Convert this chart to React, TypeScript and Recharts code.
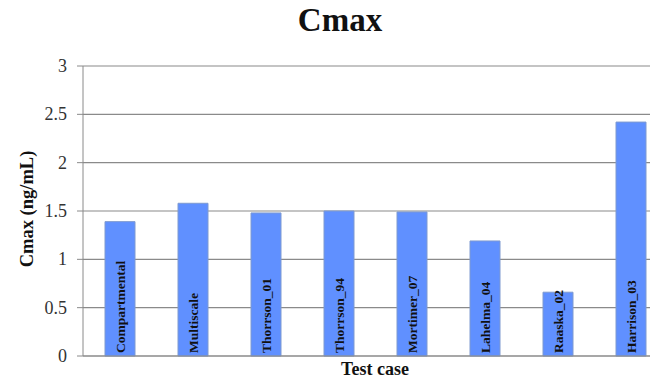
import React from 'react';
import { BarChart, Bar, XAxis, YAxis, CartesianGrid, LabelList } from 'recharts';

const categories = [
  'Compartmental',
  'Multiscale',
  'Thorrson_01',
  'Thorrson_94',
  'Mortimer_07',
  'Lahelma_04',
  'Raaska_02',
  'Harrison_03',
];
const cmaxValues = [1.39, 1.58, 1.48, 1.5, 1.49, 1.19, 0.66, 2.42];
const yTicks = [0, 0.5, 1, 1.5, 2, 2.5, 3];

const data = categories.map((name, i) => ({ name, cmax: cmaxValues[i] }));

const SERIF = '"Liberation Serif", "Times New Roman", serif';

// label drawn vertically inside each bar, reading bottom to top
const BarNameLabel = (props: any) => {
  const { x, y, width, height, value } = props;
  const cx = x + width / 2;
  const bottom = y + height - 3;
  return (
    <text
      x={cx}
      y={bottom}
      transform={`rotate(-90, ${cx}, ${bottom})`}
      textAnchor='start'
      dominantBaseline='central'
      fontFamily={SERIF}
      fontWeight='bold'
      fontSize={13.5}
      fill='#111'
    >
      {value}
    </text>
  );
};

// y tick in serif, right aligned next to the tick mark
const YTick = (props: any) => {
  const { x, y, payload } = props;
  return (
    <text
      x={x}
      y={y}
      textAnchor='end'
      dominantBaseline='central'
      fontFamily={SERIF}
      fontSize={18}
      fill='#333'
    >
      {payload.value}
    </text>
  );
};

export default function App() {
  return (
    <div
      style={{
        position: 'absolute',
        left: 0,
        top: 0,
        width: 650,
        height: 378,
        overflow: 'hidden',
        background: '#fff',
        fontFamily: SERIF,
      }}
    >
      <div
        style={{
          position: 'absolute',
          left: 0,
          width: 680,
          top: 2,
          textAlign: 'center',
          fontSize: 33,
          fontWeight: 'bold',
          color: '#111',
        }}
      >
        Cmax
      </div>

      <div
        style={{
          position: 'absolute',
          left: 27,
          top: 209,
          transform: 'translate(-50%, -50%) rotate(-90deg)',
          whiteSpace: 'nowrap',
          fontSize: 18.5,
          fontWeight: 'bold',
          color: '#111',
        }}
      >
        Cmax (ng/mL)
      </div>

      <div
        style={{
          position: 'absolute',
          left: 375,
          top: 369,
          transform: 'translate(-50%, -50%)',
          whiteSpace: 'nowrap',
          fontSize: 18,
          fontWeight: 'bold',
          color: '#111',
        }}
      >
        Test case
      </div>

      <div style={{ position: 'absolute', left: 0, top: 0 }}>
        <BarChart
          width={700}
          height={378}
          data={data}
          margin={{ top: 66, right: 33, left: 0, bottom: 0 }}
          barSize={30}
        >
          <CartesianGrid vertical={false} stroke='#8a8a8a' strokeWidth={1.2} />
          <XAxis dataKey='name' tick={false} tickLine={false} axisLine={{ stroke: '#8a8a8a' }} height={22} />
          <YAxis
            domain={[0, 3]}
            ticks={yTicks}
            width={83}
            tickSize={6}
            tickMargin={10}
            tickLine={{ stroke: '#8a8a8a' }}
            axisLine={{ stroke: '#8a8a8a' }}
            tick={<YTick />}
          />
          <Bar dataKey='cmax' fill='#6090ff' stroke='#7f9ad0' strokeWidth={1} isAnimationActive={false}>
            <LabelList dataKey='name' content={BarNameLabel} />
          </Bar>
        </BarChart>
      </div>
    </div>
  );
}
